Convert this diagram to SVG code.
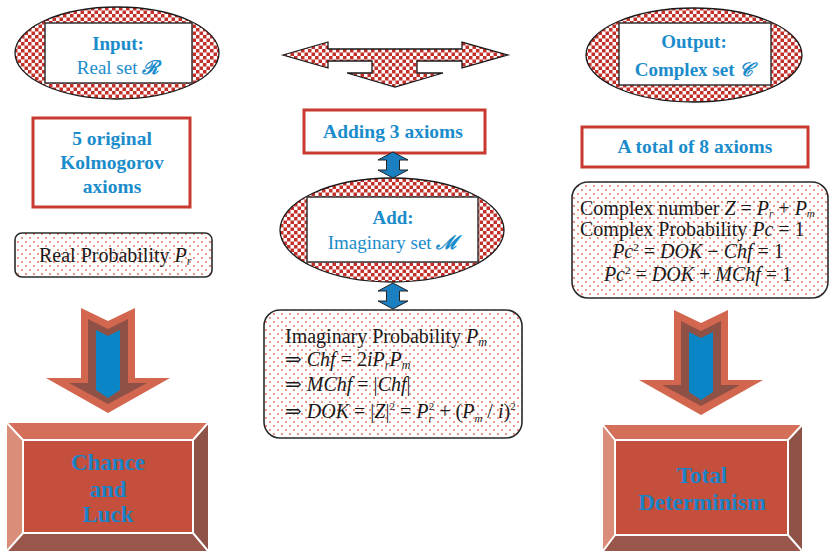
<svg xmlns="http://www.w3.org/2000/svg" width="830" height="551" viewBox="0 0 830 551">
  <defs>
    <!-- red/white checkerboard fill for the set ellipses and the splitter arrow -->
    <pattern id="checker" width="7" height="7" patternUnits="userSpaceOnUse">
      <rect width="7" height="7" fill="#ffffff"/>
      <rect width="3.5" height="3.5" fill="#c3302a"/>
      <rect x="3.5" y="3.5" width="3.5" height="3.5" fill="#c3302a"/>
    </pattern>
    <!-- sparse red dot fill for the formula boxes -->
    <pattern id="dots" width="8" height="8" patternUnits="userSpaceOnUse">
      <rect width="8" height="8" fill="#ffffff"/>
      <circle cx="2" cy="2" r="0.9" fill="#e2654f"/>
      <circle cx="6" cy="6" r="0.9" fill="#e2654f"/>
    </pattern>
    <!-- layered downward arrow used under the side columns -->
    <g id="bigArrow">
      <polygon points="-27,0 0,13 27,0 27,70 62,70 0,105 -62,70 -27,70" fill="#d2664f"/>
      <polygon points="-20,11 0,21 20,11 20,75 39,75 0,96 -39,75 -20,75" fill="#8f5046"/>
      <polygon points="-12,22 0,28 12,22 12,82 0,90 -12,82" fill="#0a86c6"/>
    </g>
    <!-- small two-headed vertical connector -->
    <polygon id="vArrow" points="0,0 15,8 6.5,8 6.5,18 15,18 0,26 -15,18 -6.5,18 -6.5,8 -15,8" fill="#1a80c2" stroke="#222" stroke-width="1"/>
  </defs>
  <style>
    .head { font-family: "Liberation Serif", "DejaVu Serif", serif; font-weight: bold; fill: #1b8ccb; text-anchor: middle; }
    .plain { font-family: "Liberation Serif", "DejaVu Serif", serif; fill: #1b8ccb; text-anchor: middle; }
    .script { font-family: "DejaVu Serif", "Liberation Serif", serif; font-style: italic; font-weight: bold; }
    .ell { fill: url(#checker); stroke: #1a1a1a; stroke-width: 1.3; }
    .inner { fill: #ffffff; stroke: #333; stroke-width: 1.5; }
    .redbox { fill: #ffffff; stroke: #c8392f; stroke-width: 3; }
    .dotbox { fill: url(#dots); stroke: #2a2a2a; stroke-width: 1.6; }
    .formula { font-family: "Liberation Serif", "DejaVu Serif", serif; font-size: 20px; fill: #1a1a1a; }
    .i { font-style: italic; }
    .big { font-family: "Liberation Serif", "DejaVu Serif", serif; font-weight: bold; font-size: 23px; fill: #1a82c6; text-anchor: middle; }
    .bevTop { fill: #d46f5a; }
    .bevLeft { fill: #da8d79; }
    .bevRight { fill: #8e5247; }
    .bevBottom { fill: #99564a; }
    .bevFace { fill: #c54f3d; }
    .sep { fill: none; stroke: #ffffff; stroke-width: 2; }
  </style>

  <!-- Input ellipse -->
  <g id="input">
    <ellipse class="ell" cx="117" cy="53" rx="102" ry="46"/>
    <rect class="inner" x="45" y="23" width="147" height="60"/>
    <text class="head" x="118" y="50" font-size="19">Input:</text>
    <text class="plain" x="118" y="74" font-size="19">Real set <tspan class="script">ℛ</tspan></text>
  </g>

  <!-- splitter arrow at the top centre -->
  <g id="splitter">
    <polygon class="ell" points="283,55 328,42 328,49 462,49 462,42 508,55 462,68 462,61 417,61 417,73 443,73 395,87 347,73 372,73 372,61 328,61 328,68"/>
  </g>

  <!-- Output ellipse -->
  <g id="output">
    <ellipse class="ell" cx="694" cy="55" rx="108" ry="47"/>
    <rect class="inner" x="619" y="23" width="152" height="62"/>
    <text class="head" x="694" y="48" font-size="19">Output:</text>
    <text class="head" x="694" y="76" font-size="19">Complex set <tspan class="script">𝒞</tspan></text>
  </g>

  <!-- Kolmogorov axioms -->
  <g id="kolmogorov">
    <rect class="redbox" x="33" y="118" width="157" height="89"/>
    <text class="head" x="112" y="145" font-size="19.5">5 original</text>
    <text class="head" x="112" y="169" font-size="19.5">Kolmogorov</text>
    <text class="head" x="112" y="193" font-size="19.5">axioms</text>
  </g>

  <!-- Real probability -->
  <g id="realProb">
    <rect class="dotbox" x="15" y="233" width="197" height="44" rx="7"/>
    <text class="formula" x="39" y="262" font-size="18.6">Real Probability <tspan class="i">P</tspan><tspan class="i" font-size="12" dy="3">r</tspan></text>
  </g>

  <!-- Adding axioms -->
  <g id="adding">
    <rect class="redbox" x="304" y="110" width="181" height="43"/>
    <text class="head" x="393" y="138" font-size="19.5">Adding 3 axioms</text>
  </g>

  <!-- Imaginary set ellipse -->
  <g id="imagSet">
    <ellipse class="ell" cx="392" cy="230" rx="112" ry="52"/>
    <rect class="inner" x="307" y="197" width="171" height="65"/>
    <text class="head" x="393" y="224" font-size="19">Add:</text>
    <text class="plain" x="393" y="249" font-size="19">Imaginary set <tspan class="script">ℳ</tspan></text>
  </g>

  <!-- Imaginary probability formulas -->
  <g id="imagProb">
    <rect class="dotbox" x="264" y="310" width="258" height="128" rx="16"/>
    <text class="formula" x="285" y="343">Imaginary Probability <tspan class="i">P</tspan><tspan class="i" font-size="12" dy="3">m</tspan></text>
    <text class="formula" x="285" y="366">⇒ <tspan class="i">Chf</tspan> = 2<tspan class="i">iP</tspan><tspan class="i" font-size="12" dy="3">r</tspan><tspan class="i" dy="-3">P</tspan><tspan class="i" font-size="12" dy="3">m</tspan></text>
    <text class="formula" x="285" y="391">⇒ <tspan class="i">MChf</tspan> = |<tspan class="i">Chf</tspan>|</text>
    <text class="formula" x="285" y="418">⇒ <tspan class="i">DOK</tspan> = |<tspan class="i">Z</tspan>|<tspan font-size="11" dy="-8">2</tspan><tspan dy="8"> = </tspan><tspan class="i">P</tspan><tspan class="i" font-size="11" dy="4">r</tspan><tspan font-size="11" dx="-4" dy="-12">2</tspan><tspan dy="8"> + (</tspan><tspan class="i">P</tspan><tspan class="i" font-size="11" dy="4">m</tspan><tspan dy="-4"> / </tspan><tspan class="i">i</tspan>)<tspan font-size="11" dy="-8">2</tspan></text>
  </g>

  <!-- Total axioms -->
  <g id="total">
    <rect class="redbox" x="582" y="127" width="226" height="40"/>
    <text class="head" x="695" y="153" font-size="19.5">A total of 8 axioms</text>
  </g>

  <!-- Complex probability formulas -->
  <g id="complexProb">
    <rect class="dotbox" x="572" y="182" width="256" height="116" rx="16"/>
    <text class="formula" x="580" y="215">Complex number <tspan class="i">Z</tspan> = <tspan class="i">P</tspan><tspan class="i" font-size="11" dy="2">r</tspan><tspan dy="-2"> + </tspan><tspan class="i">P</tspan><tspan class="i" font-size="11" dy="2">m</tspan></text>
    <text class="formula" x="580" y="236">Complex Probability <tspan class="i">Pc</tspan> = 1</text>
    <text class="formula" x="698" y="258" text-anchor="middle"><tspan class="i">Pc</tspan><tspan font-size="11" dy="-7">2</tspan><tspan dy="7"> = </tspan><tspan class="i">DOK</tspan> <tspan font-weight="bold">−</tspan> <tspan class="i">Chf</tspan> = 1</text>
    <text class="formula" x="698" y="281" text-anchor="middle"><tspan class="i">Pc</tspan><tspan font-size="11" dy="-7">2</tspan><tspan dy="7"> = </tspan><tspan class="i">DOK</tspan> + <tspan class="i">MChf</tspan> = 1</text>
  </g>

  <!-- Chance and Luck -->
  <g id="chance">
    <polygon class="bevTop" points="7,423 208,423 193,440 23,440"/>
    <polygon class="bevLeft" points="7,423 23,440 23,533 7,551"/>
    <polygon class="bevRight" points="208,423 208,551 193,533 193,440"/>
    <polygon class="bevBottom" points="23,533 193,533 208,551 7,551"/>
    <rect class="bevFace" x="23" y="440" width="170" height="93"/>
    <path class="sep" d="M7,423 L23,440 M208,423 L193,440 M23,533 L7,551 M193,533 L208,551"/>
    <rect class="sep" x="23" y="440" width="170" height="93"/>
    <text class="big" x="108" y="470">Chance</text>
    <text class="big" x="108" y="497">and</text>
    <text class="big" x="108" y="522">Luck</text>
  </g>

  <!-- Total Determinism -->
  <g id="determinism">
    <polygon class="bevTop" points="603,425 802,425 788,440 615,440"/>
    <polygon class="bevLeft" points="603,425 615,440 615,535 603,551"/>
    <polygon class="bevRight" points="802,425 802,551 788,535 788,440"/>
    <polygon class="bevBottom" points="615,535 788,535 802,551 603,551"/>
    <rect class="bevFace" x="615" y="440" width="173" height="95"/>
    <path class="sep" d="M603,425 L615,440 M802,425 L788,440 M615,535 L603,551 M788,535 L802,551"/>
    <rect class="sep" x="615" y="440" width="173" height="95"/>
    <text class="big" x="702" y="483">Total</text>
    <text class="big" x="702" y="510">Determinism</text>
  </g>

  <!-- connectors -->
  <g id="connectors">
    <use href="#vArrow" x="393" y="152"/>
    <use href="#vArrow" x="393" y="283"/>
    <use href="#bigArrow" transform="translate(108,308)"/>
    <use href="#bigArrow" transform="translate(701,310)"/>
  </g>
</svg>
